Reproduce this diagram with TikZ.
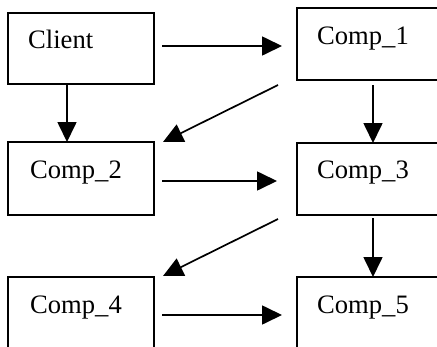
\documentclass[tikz,border=0pt]{standalone}
\usepackage{fontspec}
\setmainfont{Liberation Serif}
\usetikzlibrary{arrows.meta}
\begin{document}
\begin{tikzpicture}[x=1pt,y=-1pt,
  box/.style={draw=black,line width=2pt,rectangle,inner sep=0pt,outer sep=0pt,
              minimum width=146pt,minimum height=72pt},
  lbl/.style={anchor=base west,inner sep=0pt,font=\fontsize{26.6}{32}\selectfont},
  arr/.style={line width=1.7pt,-{Triangle[length=20pt,width=19pt]}}]
\useasboundingbox (0,0) rectangle (437,346);
\clip (0,0) rectangle (437,346);
% component boxes
\node[box,minimum height=71pt] (client) at (80.75,48.5) {};
\node[box] (comp1) at (370,44) {};
\node[box,minimum height=73pt] (comp2) at (81,178.5) {};
\node[box] (comp3) at (370,179) {};
\node[box] (comp4) at (81,313) {};
\node[box] (comp5) at (370,313) {};
% box titles
\node[lbl] (tclient) at (28,48.5) {Client};
\node[lbl] (tcomp1) at (317,44) {Comp\_1};
\node[lbl] (tcomp2) at (30,178) {Comp\_2};
\node[lbl] (tcomp3) at (317,178) {Comp\_3};
\node[lbl] (tcomp4) at (30,313) {Comp\_4};
\node[lbl] (tcomp5) at (317,313) {Comp\_5};
% connector end points
\coordinate (a1s) at (162,46);   \coordinate (a1e) at (282,46);
\coordinate (a2s) at (67,84);    \coordinate (a2e) at (67,142);
\coordinate (a3s) at (373,85);   \coordinate (a3e) at (373,143);
\coordinate (a4s) at (278,85);   \coordinate (a4e) at (163,142);
\coordinate (a5s) at (162,181);  \coordinate (a5e) at (277,181);
\coordinate (a6s) at (373,218);  \coordinate (a6e) at (373,277);
\coordinate (a7s) at (278,219);  \coordinate (a7e) at (163,276);
\coordinate (a8s) at (162,315);  \coordinate (a8e) at (282,315);
% calls between components
\draw[arr] (a1s) -- (a1e);
\draw[arr] (a2s) -- (a2e);
\draw[arr] (a3s) -- (a3e);
\draw[arr] (a4s) -- (a4e);
\draw[arr] (a5s) -- (a5e);
\draw[arr] (a6s) -- (a6e);
\draw[arr] (a7s) -- (a7e);
\draw[arr] (a8s) -- (a8e);
\end{tikzpicture}
\end{document}
